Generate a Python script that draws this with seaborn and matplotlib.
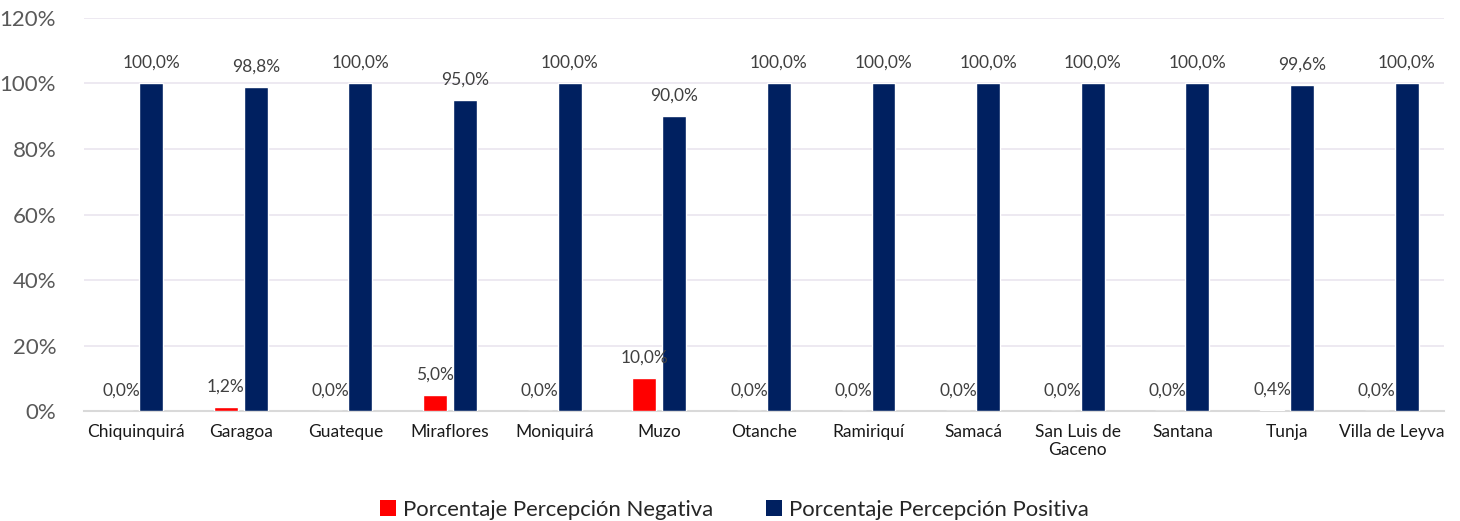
import matplotlib
matplotlib.use("Agg")
import matplotlib.pyplot as plt
import seaborn as sns
import pandas as pd
from matplotlib.ticker import FuncFormatter
from matplotlib.patches import Patch

municipios = ["Chiquinquirá", "Garagoa", "Guateque", "Miraflores", "Moniquirá",
              "Muzo", "Otanche", "Ramiriquí", "Samacá", "San Luis de\nGaceno",
              "Santana", "Tunja", "Villa de Leyva"]
negativa = [0.0, 1.2, 0.0, 5.0, 0.0, 10.0, 0.0, 0.0, 0.0, 0.0, 0.0, 0.4, 0.0]
positiva = [100.0, 98.8, 100.0, 95.0, 100.0, 90.0, 100.0, 100.0, 100.0, 100.0, 100.0, 99.6, 100.0]
series = ["Porcentaje Percepción Negativa", "Porcentaje Percepción Positiva"]
colores = ["#FF0000", "#002060"]

df = pd.DataFrame({
    "municipio": municipios * 2,
    "valor": negativa + positiva,
    "serie": [series[0]] * len(municipios) + [series[1]] * len(municipios),
})

sns.set_style("white")
plt.rcParams["font.family"] = ["Lato", "DejaVu Sans"]

fig = plt.figure(figsize=(14.6, 5.21), dpi=100)
ax = fig.add_axes([0.0575, 0.211, 0.9315, 0.7545])

sns.barplot(data=df, x="municipio", y="valor", hue="serie", palette=colores,
            width=0.572, gap=0.2, ax=ax, legend=False, errorbar=None,
            saturation=1, zorder=3)

ax.set_ylim(0, 120)
ax.set_yticks(range(0, 121, 20))
ax.yaxis.set_major_formatter(FuncFormatter(lambda v, p: f"{int(v)}%"))
ax.set_xlim(-0.5, len(municipios) - 0.5)
ax.grid(axis="y", color="#EAE5EF", linewidth=1.2, zorder=0)
ax.set_axisbelow(True)
for s in ["top", "right", "left"]:
    ax.spines[s].set_visible(False)
ax.spines["bottom"].set_color("#D9D9D9")
ax.spines["bottom"].set_linewidth(1.5)
ax.tick_params(axis="y", labelsize=16, labelcolor="#595959", length=0, pad=20)
ax.tick_params(axis="x", labelsize=12.5, labelcolor="#1a1a1a", length=0, pad=9)
ax.set_xlabel("")
ax.set_ylabel("")

for cont in ax.containers:
    labels = [f"{b.get_height():.1f}".replace(".", ",") + "%" for b in cont]
    ax.bar_label(cont, labels=labels, padding=9, fontsize=12.5, color="#404040")

handles = [Patch(facecolor=c, edgecolor="none") for c in colores]
fig.legend(handles, series, loc="center", bbox_to_anchor=(0.503, 0.022),
           ncol=2, frameon=False, fontsize=15.9, handlelength=0.72, handleheight=0.72,
           handletextpad=0.3, columnspacing=2.4)

fig.savefig("out.png", dpi=100)
